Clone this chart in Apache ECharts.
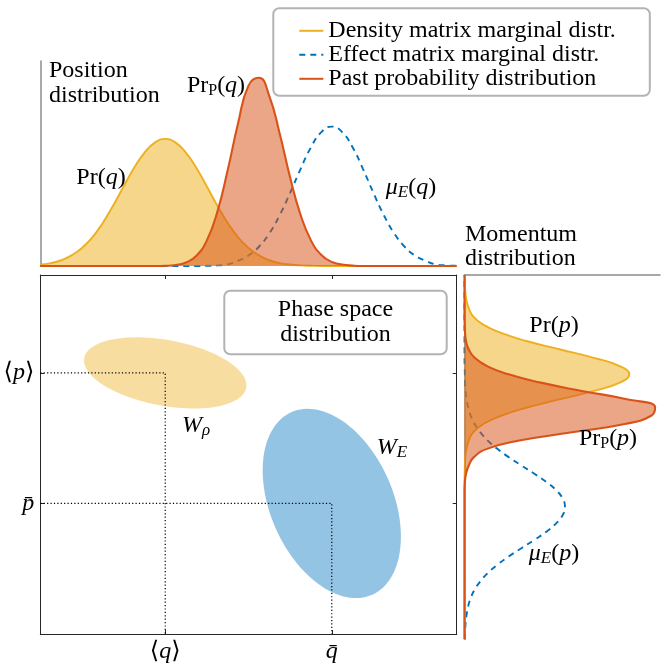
<!DOCTYPE html>
<html><head><meta charset="utf-8">
<script src="https://cdn.jsdelivr.net/npm/echarts@6/dist/echarts.min.js"></script>
<style>html,body{margin:0;padding:0;background:#fff}#c{width:667px;height:664px}</style>
</head><body><div id="c"></div>
<script>
// ---------- data ----------
const qGrid = [-5,-4.75,-4.5,-4.25,-4,-3.75,-3.5,-3.25,-3,-2.75,-2.5,-2.25,-2,-1.75,-1.5,-1.25,-1,-0.75,-0.5,-0.25,0,0.25,0.5,0.75,1,1.25,1.5,1.75,2,2.25,2.5,2.75,3,3.25,3.5,3.75,4,4.25,4.5,4.75,5];
const prQ  = [0.007,0.014,0.028,0.052,0.088,0.140,0.210,0.295,0.388,0.478,0.552,0.602,0.620,0.602,0.552,0.478,0.388,0.295,0.210,0.140,0.088,0.052,0.028,0.014,0.007,0.003,0.001,0,0,0,0,0,0,0,0,0,0,0,0,0,0];
const prpQ = [0,0,0,0,0,0,0,0,0,0,0,0,0.001,0.005,0.017,0.050,0.125,0.263,0.467,0.696,0.880,0.918,0.829,0.645,0.432,0.250,0.125,0.054,0.020,0.007,0.002,0,0,0,0,0,0,0,0,0,0];
const muQ  = [0,0,0,0,0,0,0,0,0,0,0,0,0,0,0,0,0.001,0.003,0.008,0.026,0.051,0.094,0.159,0.248,0.357,0.473,0.579,0.653,0.680,0.653,0.579,0.473,0.357,0.248,0.159,0.094,0.051,0.026,0.008,0.003,0.001];

const pGrid = [-6,-5.75,-5.5,-5.25,-5,-4.75,-4.5,-4.25,-4,-3.75,-3.5,-3.25,-3,-2.75,-2.5,-2.25,-2,-1.75,-1.5,-1.25,-1,-0.75,-0.5,-0.25,0,0.25,0.5,0.75,1,1.25,1.5,1.75,2,2.25,2.5,2.75,3,3.25,3.5,3.75,4,4.25,4.5,4.75,5];
const prP  = [0,0,0,0,0,0,0,0,0,0,0,0,0,0,0,0,0,0,0,0,0.001,0.002,0.004,0.010,0.022,0.044,0.096,0.187,0.321,0.490,0.662,0.794,0.843,0.794,0.662,0.490,0.321,0.187,0.096,0.044,0.022,0.010,0.004,0.002,0.001];
const prpP = [0,0,0,0,0,0,0,0,0,0,0,0,0,0,0,0,0,0,0,0.002,0.008,0.022,0.048,0.115,0.280,0.550,0.820,0.955,0.975,0.830,0.600,0.390,0.225,0.115,0.052,0.022,0.008,0.003,0.001,0,0,0,0,0,0];
const muP  = [0.002,0.003,0.006,0.011,0.019,0.032,0.052,0.081,0.119,0.168,0.226,0.291,0.357,0.419,0.469,0.502,0.514,0.502,0.469,0.419,0.357,0.291,0.226,0.168,0.119,0.081,0.052,0.032,0.019,0.011,0.006,0.003,0.002,0.001,0,0,0,0,0,0,0,0,0,0,0];

const qMeans = [-2, 2];
const pMeans = [2, -2];
const qTickLabels = ['\u27E8q\u27E9', 'q\u0304'];
const pTickLabels = ['\u27E8p\u27E9', 'p\u0304'];

const ellipseCenterQ = [-2, 2];
const ellipseCenterP = [2, -2];
const ellipseHalfQ   = [1.95, 1.66];
const ellipseHalfP   = [1.09, 2.90];
const ellipseCorr    = [-0.35, -0.35];

const legendNames = ['Density matrix marginal distr.', 'Effect matrix marginal distr.', 'Past probability distribution'];

// ---------- styles ----------
const FONT = '"Liberation Serif", "DejaVu Serif", serif';
const FS = 24;
const YEL = '#EDB120', BLU = '#0072BD', RED = '#D95319';
const ellipseFill = ['rgba(237,177,32,0.43)', 'rgba(0,114,189,0.42)'];
const Q_RANGE = [-5, 5], P_RANGE = [-6, 5];

const rich = {
  r: {fontFamily: FONT, fontSize: FS, lineHeight: 26, color: '#000'},
  i: {fontFamily: FONT, fontSize: FS, lineHeight: 26, fontStyle: 'italic', color: '#000'},
  s: {fontFamily: FONT, fontSize: 16, lineHeight: 10, verticalAlign: 'bottom', color: '#000'},
  si: {fontFamily: FONT, fontSize: 17, lineHeight: 10, verticalAlign: 'bottom', fontStyle: 'italic', color: '#000'}
};
function mathRich(s) {
  let out = '', cur = null, buf = '';
  for (const ch of s) {
    const st = /[A-Za-z\u0300-\u036f\u03b1-\u03c9]/.test(ch) ? 'i' : 'r';
    if (st !== cur && buf) { out += '{' + cur + '|' + buf + '}'; buf = ''; }
    cur = st; buf += ch;
  }
  if (buf) out += '{' + cur + '|' + buf + '}';
  return out;
}

const chart = echarts.init(document.getElementById('c'), null, {renderer: 'canvas'});

const gMain = {left: 40.3, right: 210.3, top: 275, bottom: 24.7};
const gTop = {left: 40.3, right: 210.3, top: 61, bottom: 398};
const gRight = {left: 464.5, right: 7, top: 275, bottom: 24.7};

const axisDark = {onZero: false, lineStyle: {color: '#262626', width: 1}};
const axisGray = {show: true, onZero: false, lineStyle: {color: '#8c8c8c', width: 1.5}};
const tickIn = (vals) => ({show: true, inside: true, length: 4, customValues: vals, lineStyle: {color: '#262626', width: 1}});

const topPairs = (arr) => qGrid.map((q, i) => [q, arr[i]]);

function curve(name, data, color, xi, yi, opts) {
  return Object.assign({
    name, type: 'line', data, xAxisIndex: xi, yAxisIndex: yi,
    smooth: 0.5, symbol: 'none', showSymbol: false, silent: true,
    itemStyle: {color},
    lineStyle: {color, width: 2.1}
  }, opts || {});
}

const series = [
  // top plot
  curve(legendNames[1], topPairs(muQ), BLU, 2, 2, {lineStyle: {color: BLU, width: 1.9, type: [6, 5]}, z: 2}),
  curve(legendNames[0], topPairs(prQ), YEL, 2, 2, {areaStyle: {color: YEL, opacity: 0.52}, lineStyle: {color: YEL, width: 1.9}, z: 3}),
  curve(legendNames[2], topPairs(prpQ), RED, 2, 2, {areaStyle: {color: RED, opacity: 0.52}, z: 4}),
  // right plot
  curve(legendNames[1], muP, BLU, 3, 3, {lineStyle: {color: BLU, width: 1.9, type: [6, 5]}, z: 2}),
  curve(legendNames[0], prP, YEL, 3, 3, {areaStyle: {color: YEL, opacity: 0.52}, lineStyle: {color: YEL, width: 1.9}, z: 3}),
  curve(legendNames[2], prpP, RED, 3, 3, {areaStyle: {color: RED, opacity: 0.52}, z: 4}),
  // ellipses
  {
    type: 'custom', xAxisIndex: 0, yAxisIndex: 0, silent: true, z: 2,
    data: ellipseCenterQ.map((q, i) => [q, ellipseCenterP[i], ellipseHalfQ[i], ellipseHalfP[i], ellipseCorr[i]]),
    renderItem: function (params, api) {
      const cq = api.value(0), cp = api.value(1), hq = api.value(2), hp = api.value(3), r = api.value(4);
      const pts = [];
      const N = 120, sr = Math.sqrt(1 - r * r);
      for (let k = 0; k < N; k++) {
        const t = k / N * 2 * Math.PI;
        pts.push(api.coord([cq + hq * Math.cos(t), cp + hp * (r * Math.cos(t) + sr * Math.sin(t))]));
      }
      return {type: 'polygon', shape: {points: pts}, style: {fill: ellipseFill[params.dataIndex], stroke: null}};
    }
  }
];
// dotted guide lines
qMeans.forEach((q, i) => {
  series.push({
    type: 'line', xAxisIndex: 0, yAxisIndex: 0, symbol: 'none', silent: true, z: 5,
    data: [[Q_RANGE[0], pMeans[i]], [q, pMeans[i]], [q, P_RANGE[0]]],
    lineStyle: {color: '#000', width: 1.2, type: [1.2, 2.2]}
  });
});

function label(x, y, text) {
  return {type: 'text', x, y, z: 50, silent: true,
    style: {text, rich, align: 'center', verticalAlign: 'middle', fill: '#000'}};
}
function block(x, y, text, align, lh) {
  return {type: 'text', x, y, z: 50, silent: true,
    style: {text, fontFamily: FONT, fontSize: FS, lineHeight: lh, align, verticalAlign: 'top', fill: '#000'}};
}

const option = {
  animation: false,
  backgroundColor: '#fff',
  grid: [gMain, gTop, gRight],
  xAxis: [
    {type: 'value', gridIndex: 0, min: Q_RANGE[0], max: Q_RANGE[1], position: 'bottom',
     axisLine: axisDark, splitLine: {show: false}, axisTick: tickIn(qMeans),
     axisLabel: {customValues: qMeans, margin: 5, formatter: v => mathRich(qTickLabels[qMeans.indexOf(v)]), rich}},
    {type: 'value', gridIndex: 0, min: Q_RANGE[0], max: Q_RANGE[1], position: 'top',
     axisLine: axisDark, splitLine: {show: false}, axisTick: tickIn(qMeans), axisLabel: {show: false}},
    {type: 'value', gridIndex: 1, min: Q_RANGE[0], max: Q_RANGE[1],
     axisLine: {show: false, onZero: false}, splitLine: {show: false}, axisTick: {show: false}, axisLabel: {show: false}},
    {type: 'value', gridIndex: 2, min: 0, max: 1, position: 'top',
     axisLine: axisGray, splitLine: {show: false}, axisTick: {show: false}, axisLabel: {show: false}}
  ],
  yAxis: [
    {type: 'value', gridIndex: 0, min: P_RANGE[0], max: P_RANGE[1], position: 'left',
     axisLine: axisDark, splitLine: {show: false}, axisTick: tickIn(pMeans),
     axisLabel: {customValues: pMeans, margin: 6, formatter: v => mathRich(pTickLabels[pMeans.indexOf(v)]), rich}},
    {type: 'value', gridIndex: 0, min: P_RANGE[0], max: P_RANGE[1], position: 'right',
     axisLine: axisDark, splitLine: {show: false}, axisTick: tickIn(pMeans), axisLabel: {show: false}},
    {type: 'value', gridIndex: 1, min: 0, max: 1, position: 'left',
     axisLine: axisGray, splitLine: {show: false}, axisTick: {show: false}, axisLabel: {show: false}},
    {type: 'category', gridIndex: 2, data: pGrid.map(String), boundaryGap: false, position: 'left',
     axisLine: axisGray, splitLine: {show: false}, axisTick: {show: false}, axisLabel: {show: false}}
  ],
  legend: {
    data: legendNames, orient: 'vertical', left: 273.3, top: 8.3,
    itemWidth: 24, itemHeight: 10, itemGap: 0, selectedMode: false,
    padding: [10.5, 34, 5, 25],
    itemStyle: {opacity: 0, borderWidth: 0},
    lineStyle: {opacity: 1},
    borderColor: '#b3b3b3', borderWidth: 2, borderRadius: 6, backgroundColor: '#fff',
    textStyle: {fontFamily: FONT, fontSize: FS, lineHeight: 21, color: '#000'}
  },
  graphic: [
    block(49, 58.4, 'Position\ndistribution', 'left', 25),
    block(465, 222.9, 'Momentum\ndistribution', 'left', 24),
    {type: 'rect', z: 40, silent: true, shape: {x: 224.3, y: 290.7, width: 222.4, height: 63.6, r: 6},
     style: {fill: '#fff', stroke: '#b3b3b3', lineWidth: 2}},
    block(335.5, 298, 'Phase space\ndistribution', 'center', 24.4),
    label(101, 178, '{r|Pr(}{i|q}{r|)}'),
    label(216, 86, '{r|Pr}{s|P}{r|(}{i|q}{r|)}'),
    label(411, 188, '{i|\u03bc}{si|E}{r|(}{i|q}{r|)}'),
    label(196, 426, '{i|W}{si|\u03c1}'),
    label(392, 448, '{i|W}{si|E}'),
    label(554, 326, '{r|Pr(}{i|p}{r|)}'),
    label(608, 439, '{r|Pr}{s|P}{r|(}{i|p}{r|)}'),
    label(554, 554, '{i|\u03bc}{si|E}{r|(}{i|p}{r|)}')
  ],
  series
};
chart.setOption(option);
</script>
</body></html>
